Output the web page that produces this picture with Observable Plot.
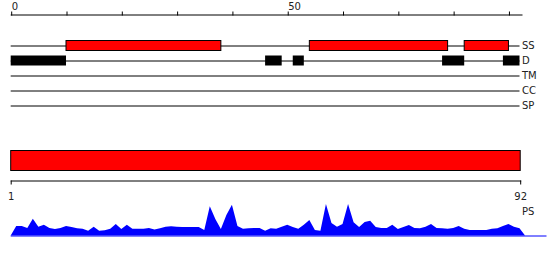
<!DOCTYPE html>
<html>
<head>
<meta charset="utf-8">
<script src="https://cdn.jsdelivr.net/npm/d3@7"></script>
<script src="https://cdn.jsdelivr.net/npm/@observablehq/plot@0.6"></script>
<style>
  body { margin: 0; background: white; }
  #chart { position: relative; width: 550px; height: 260px; }
  #chart svg { position: absolute; left: 0; top: 0; }
</style>
</head>
<body>
<div id="chart"></div>
<script>
// ---- data ----
const seqLength = 92;
const tracks = ["SS", "D", "TM", "CC", "SP"];
const topTicks = [0, 10, 20, 30, 40, 50, 60, 70, 80, 90];
const topTickLabels = ["0", "", "", "", "", "50", "", "", "", ""];
const bottomTicks = [1, 92];
const ssStart = [10, 54, 82];
const ssEnd = [38, 79, 90];
const disStart = [0, 46, 51, 78, 89];
const disEnd = [10, 49, 53, 82, 92];
const psStart = [1];
const psEnd = [92];
const profileLabel = "PS";
const profile = [
  0.24, 0.24, 0.19, 0.42, 0.22, 0.27, 0.19, 0.16, 0.19, 0.24,
  0.21, 0.18, 0.17, 0.12, 0.22, 0.12, 0.13, 0.17, 0.29, 0.16,
  0.27, 0.17, 0.17, 0.17, 0.19, 0.15, 0.18, 0.22, 0.23, 0.22,
  0.21, 0.21, 0.21, 0.21, 0.14, 0.73, 0.41, 0.16, 0.51, 0.77,
  0.24, 0.17, 0.18, 0.19, 0.19, 0.12, 0.18, 0.17, 0.22, 0.27,
  0.21, 0.17, 0.27, 0.39, 0.14, 0.12, 0.79, 0.31, 0.22, 0.29,
  0.79, 0.33, 0.21, 0.34, 0.37, 0.21, 0.19, 0.19, 0.27, 0.16,
  0.21, 0.26, 0.19, 0.18, 0.22, 0.29, 0.19, 0.18, 0.17, 0.19,
  0.24, 0.17, 0.14, 0.14, 0.14, 0.14, 0.17, 0.18, 0.24, 0.29,
  0.22, 0.18
];

// ---- derived tables ----
const ssFeatures = ssStart.map((s, i) => ({track: "SS", start: s, end: ssEnd[i]}));
const disFeatures = disStart.map((s, i) => ({track: "D", start: s, end: disEnd[i]}));
const psFeatures = psStart.map((s, i) => ({track: "PS", start: s, end: psEnd[i]}));
const profileData = [
  {pos: 0, score: 0},
  ...profile.map((v, i) => ({pos: i + 1, score: v})),
  {pos: seqLength + 1, score: 0}
];

const plotStyle = {background: "none", fontFamily: "DejaVu Sans", fontSize: "10px", color: "black", overflow: "visible"};

// ---- top: ruler + feature tracks ----
const trackPlot = Plot.plot({
  width: 550, height: 130,
  marginTop: 14.5, marginLeft: 10.7, marginRight: 30.5, marginBottom: 17,
  style: plotStyle,
  x: {domain: [0, seqLength]},
  y: {type: "band", domain: tracks, paddingInner: 1/3, paddingOuter: 1/6, round: false, insetTop: 23.5, axis: null},
  marks: [
    Plot.frame({anchor: "top", stroke: "black", insetRight: -2}),
    Plot.axisX(topTicks, {anchor: "top", tickSize: 4, tickPadding: 1, textAnchor: "start", dx: 0.5,
      tickFormat: d => topTickLabels[topTicks.indexOf(d)], fill: "#222"}),
    Plot.ruleY(tracks, {y: d => d, x1: 0, x2: seqLength, stroke: "black"}),
    Plot.barX(ssFeatures, {x1: "start", x2: "end", y: "track", fill: "#ff0000", stroke: "black", strokeWidth: 1}),
    Plot.barX(disFeatures, {x1: "start", x2: "end", y: "track", fill: "black"}),
    Plot.text(tracks, {y: d => d, x: seqLength, text: d => d, textAnchor: "start", dx: 2, fill: "#222"})
  ]
});

// ---- bottom: whole-sequence bar + ruler ----
const seqPlot = Plot.plot({
  width: 550, height: 260,
  marginTop: 150.5, marginBottom: 79.5, marginLeft: 10.7, marginRight: 29.8,
  style: plotStyle,
  x: {domain: [1, seqLength]},
  y: {type: "band", domain: ["PS"], padding: 0, round: false, insetBottom: 10, axis: null},
  marks: [
    Plot.barX(psFeatures, {x1: "start", x2: "end", y: "track", fill: "#ff0000", stroke: "black", strokeWidth: 1}),
    Plot.frame({anchor: "bottom", stroke: "black"}),
    Plot.axisX(bottomTicks, {anchor: "bottom", tickSize: 4, tickPadding: 8, fill: "#222"})
  ]
});

// ---- profile ----
const profPlot = Plot.plot({
  width: 550, height: 260,
  marginTop: 195.5, marginBottom: 24.5, marginLeft: 10.7, marginRight: 30.5,
  style: plotStyle,
  x: {domain: [0, seqLength], axis: null},
  y: {domain: [0, 1], axis: null},
  marks: [
    Plot.areaY(profileData, {x: "pos", y: "score", fill: "#0000ff"}),
    Plot.ruleY([0], {stroke: "#0000ff", insetRight: -27}),
    Plot.text([profileLabel], {x: seqLength, frameAnchor: "top", dy: 12, text: d => d, textAnchor: "start", dx: 2, fill: "#222"})
  ]
});

document.getElementById("chart").append(trackPlot, seqPlot, profPlot);
</script>
</body>
</html>
